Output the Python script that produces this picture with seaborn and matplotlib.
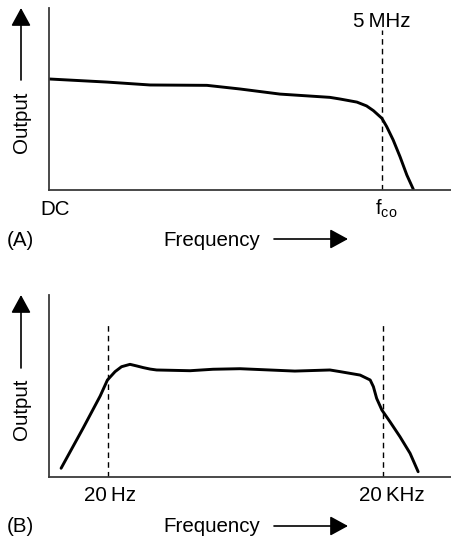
import matplotlib
matplotlib.use("Agg")
import matplotlib.pyplot as plt
import seaborn as sns
import pandas as pd

# ---------------- data (arbitrary units: 0..100 on both axes) ----------------
freq_a = [0, 14.4, 25.1, 39.2, 47.4, 57.3, 69.7, 72.2, 76.4, 78.8, 80.5, 82.6,
          83.8, 85.4, 87.1, 88.8, 90.4]
out_a = [61.0, 59.3, 57.7, 57.5, 55.5, 52.7, 50.9, 50.0, 48.3, 46.2, 43.6, 39.4,
         34.8, 27.5, 18.3, 8.2, 0.4]
cutoff_a = [82.6]
cutoff_a_top = 88.0
ticks_a = [1.6, 83.6]
ticklabels_a = ["DC", r"$\mathregular{f_{co}}$"]
marker_a = "5\u2009MHz"

freq_b = [3.0, 8.5, 12.7, 14.5, 16.4, 18.0, 20.1, 21.8, 23.4, 25.1, 26.7, 35.0,
          40.7, 47.4, 61.0, 69.7, 72.2, 77.2, 79.7, 80.5, 81.3, 82.6, 84.6, 87.1,
          89.6, 91.6]
out_b = [4.8, 27.0, 44.5, 53.3, 57.9, 60.6, 61.9, 61.0, 60.1, 59.3, 58.8, 58.4,
         59.2, 59.5, 58.2, 58.8, 57.9, 56.0, 53.3, 49.6, 43.2, 36.8, 30.4, 22.1,
         13.0, 2.9]
cutoff_b = [14.6, 83.0]
cutoff_b_top = 84.6
ticks_b = [15.2, 85.0]
ticklabels_b = ["20\u2009Hz", "20\u2009KHz"]

# ---------------- figure ----------------
sns.set_style("white")
plt.rcParams["font.family"] = ["Liberation Sans", "DejaVu Sans"]
plt.rcParams["mathtext.fontset"] = "custom"
plt.rcParams["mathtext.rm"] = "Liberation Sans"
plt.rcParams["text.color"] = "black"

W, H = 452, 540
fig = plt.figure(figsize=(W / 100, H / 100), dpi=100)
FS = 14.8


def px_axes(left, top, right, bottom):
    return fig.add_axes([left / W, 1 - bottom / H, (right - left) / W, (bottom - top) / H])


def style_axes(ax):
    ax.set_xlim(0, 100)
    ax.set_ylim(0, 100)
    for s in ["top", "right"]:
        ax.spines[s].set_visible(False)
    for s in ["left", "bottom"]:
        ax.spines[s].set_color("#3a3a3a")
        ax.spines[s].set_linewidth(1.3)
    ax.set_xticks([])
    ax.set_yticks([])
    ax.set_xlabel("")
    ax.set_ylabel("")
    ax.patch.set_alpha(0)


def fig_text(x, y, s, **kw):
    fig.text(x / W, 1 - y / H, s, fontsize=FS, va="center", color="black", **kw)


def arrow(x0, y0, x1, y1):
    fig.patches.append(matplotlib.patches.FancyArrowPatch(
        (x0 / W, 1 - y0 / H), (x1 / W, 1 - y1 / H), transform=fig.transFigure,
        arrowstyle="-|>,head_length=0.55,head_width=0.3", mutation_scale=20,
        color="black", lw=1.2, shrinkA=0, shrinkB=0))


def draw_curve(ax, f, o):
    sns.lineplot(data=pd.DataFrame({"f": f, "o": o}), x="f", y="o", ax=ax,
                 sort=False, color="black", lw=2.1, estimator=None,
                 solid_capstyle="round", solid_joinstyle="round")


# Panel A
axA = px_axes(49, 8, 452, 190)
draw_curve(axA, freq_a, out_a)
axA.vlines(cutoff_a, 0, cutoff_a_top, colors="black", linestyles=(0, (4, 3)), lw=1)
style_axes(axA)
for xp, lab in zip(ticks_a, ticklabels_a):
    axA.text(xp, -10.5, lab, ha="center", va="center", fontsize=FS, color="black")
axA.text(cutoff_a[0], 92.5, marker_a, ha="center", va="center", fontsize=FS, color="black")

fig_text(21, 122, "Output", rotation=90, ha="center")
arrow(21, 80, 21, 8)
fig_text(20, 240, "(A)", ha="center")
fig_text(212, 240, "Frequency", ha="center")
arrow(274, 239, 348, 239)

# Panel B
axB = px_axes(49, 295, 452, 477)
draw_curve(axB, freq_b, out_b)
axB.vlines(cutoff_b, 0, cutoff_b_top, colors="black", linestyles=(0, (4, 3)), lw=1)
style_axes(axB)
for xp, lab in zip(ticks_b, ticklabels_b):
    axB.text(xp, -10, lab, ha="center", va="center", fontsize=FS, color="black")

fig_text(21, 409, "Output", rotation=90, ha="center")
arrow(21, 368, 21, 295)
fig_text(20, 527, "(B)", ha="center")
fig_text(212, 527, "Frequency", ha="center")
arrow(274, 526, 348, 526)

fig.savefig("out.png", dpi=100)
